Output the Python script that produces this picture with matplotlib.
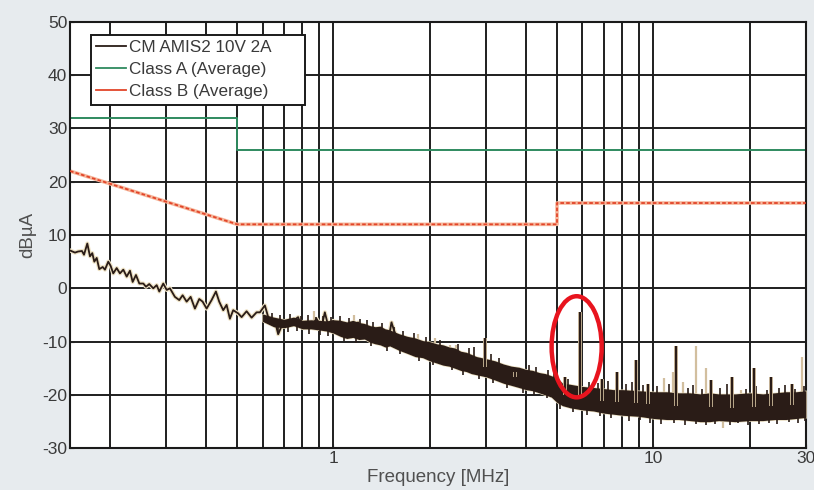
import numpy as np
import matplotlib
matplotlib.use('Agg')
import matplotlib.pyplot as plt
import matplotlib.patheffects as pe
from matplotlib.patches import Ellipse
from matplotlib.ticker import FixedLocator, NullFormatter

plt.rcParams['font.family'] = ['Liberation Sans', 'DejaVu Sans']
plt.rcParams['axes.unicode_minus'] = False

# measured trace, low frequency part (MHz, dBuA)
trace_mhz = [0.150, 0.1555, 0.1589, 0.1635, 0.1659, 0.1699, 0.1732, 0.1761, 0.1787, 0.1818,
             0.1852, 0.1898, 0.1929, 0.1976, 0.2010, 0.2048, 0.2099, 0.2149, 0.2202, 0.2256,
             0.2310, 0.2355, 0.2412, 0.2471, 0.2543, 0.2592, 0.2654, 0.2732, 0.2800, 0.2853,
             0.2936, 0.3009, 0.3080, 0.3192, 0.3294, 0.3375, 0.3474, 0.3575, 0.3687, 0.3804,
             0.3898, 0.4011, 0.4158, 0.4289, 0.4392, 0.4521, 0.4632, 0.4743, 0.4857, 0.5035,
             0.5160, 0.5349, 0.5546, 0.5748, 0.5888, 0.6102, 0.6249, 0.6404, 0.6557, 0.6714,
             0.6962, 0.7216, 0.7479, 0.7753, 0.7947, 0.8238, 0.8538, 0.8851, 0.9175, 0.9396,
             0.9622, 0.9975, 1.034, 1.072, 1.111, 1.152, 1.194, 1.238, 1.283, 1.330,
             1.379, 1.430, 1.482, 1.518, 1.574, 1.632, 1.692, 1.754, 1.818, 1.885,
             1.954, 2.025, 2.100, 2.177, 2.256]
trace_dbua = [7.1, 6.7, 6.9, 7.0, 6.3, 8.4, 6.0, 6.6, 5.0, 5.7,
              3.6, 4.0, 3.5, 5.0, 4.2, 2.8, 3.8, 2.8, 3.5, 2.2,
              3.3, 1.2, 2.5, 0.9, 0.9, 0.3, 0.8, 0.0, 0.6, -0.6,
              0.9, -0.3, 0.0, -1.6, -2.2, -1.3, -2.5, -1.6, -3.8, -2.0,
              -2.5, -3.8, -2.2, -0.6, -2.5, -4.1, -3.1, -5.7, -4.1, -4.7,
              -5.4, -4.3, -5.5, -4.5, -4.5, -3.2, -5.4, -6.7, -6.1, -8.6,
              -6.4, -7.0, -6.1, -5.4, -7.3, -6.4, -7.0, -5.7, -7.3, -4.5,
              -7.0, -6.1, -7.6, -6.7, -8.0, -7.0, -6.4, -8.0, -7.6, -8.6,
              -9.2, -8.3, -9.9, -6.4, -9.2, -10.5, -11.1, -10.2, -11.8, -10.8,
              -12.1, -11.5, -12.4, -13.1, -12.4]

# dense noise band (upper / lower envelope)
band_mhz = [0.60, 0.65, 0.70, 0.75, 0.80, 0.85, 0.90, 0.95, 1.00, 1.05,
            1.10, 1.15, 1.20, 1.25, 1.30, 1.35, 1.40, 1.45, 1.50, 1.60,
            1.70, 1.80, 1.90, 2.00, 2.10, 2.20, 2.30, 2.40, 2.50, 2.60,
            2.70, 2.80, 2.90, 3.00, 3.20, 3.40, 3.60, 3.80, 4.00, 4.20,
            4.40, 4.60, 4.80, 5.00, 5.20, 5.50, 6.00, 6.50, 7.00, 7.50,
            8.00, 9.00, 10.0, 11.0, 12.0, 13.0, 14.0, 15.0, 16.0, 18.0,
            20.0, 22.0, 24.0, 26.0, 28.0, 30.0]
band_hi = [-4.8, -5.4, -5.8, -5.4, -6.0, -5.9, -6.0, -6.1, -5.9, -6.0,
           -6.3, -6.0, -6.4, -6.6, -7.0, -7.2, -7.1, -7.6, -7.8, -8.5,
           -9.0, -9.3, -9.8, -10.0, -10.4, -10.6, -11.0, -11.2, -11.8, -12.0,
           -12.4, -12.8, -13.0, -13.2, -13.6, -14.2, -14.6, -14.8, -15.2, -15.4,
           -15.8, -16.0, -16.4, -16.8, -17.8, -18.0, -18.4, -18.6, -18.8, -19.0,
           -19.0, -19.2, -19.4, -19.4, -19.6, -19.6, -19.8, -19.6, -19.8, -19.8,
           -19.6, -19.8, -19.6, -19.4, -19.4, -19.2]
band_lo = [-6.2, -7.2, -7.4, -7.0, -7.6, -7.6, -7.8, -8.0, -8.4, -9.0,
           -9.4, -9.2, -9.6, -9.5, -10.1, -10.4, -10.6, -11.0, -10.8, -11.6,
           -12.2, -12.8, -13.0, -13.6, -14.0, -14.4, -14.6, -15.0, -15.4, -15.6,
           -16.0, -16.2, -16.4, -16.6, -17.2, -17.8, -18.2, -18.6, -19.0, -19.2,
           -19.6, -20.0, -20.4, -21.4, -22.0, -22.4, -22.8, -23.0, -23.4, -23.6,
           -23.8, -24.0, -24.4, -24.6, -24.6, -24.8, -25.0, -25.0, -24.8, -25.0,
           -24.8, -24.8, -24.6, -24.6, -24.4, -24.2]

# small noise excursions above / below the band
fuzz_up_mhz = [0.64, 0.68, 0.73, 0.79, 0.83, 0.88, 0.93, 0.98,
               1.05, 1.12, 1.21, 1.27, 1.33, 1.42, 1.55, 1.65, 1.78, 1.95,
               2.15, 2.45, 2.65, 2.75, 3.1, 3.3, 3.7, 4.1, 4.3, 4.7,
               4.9, 5.4, 6.3, 6.7, 7.2, 8.2, 8.6, 9.3, 10.3, 11.2,
               12.8, 13.3, 14.2, 16.2, 17.0, 19.5, 21.0, 22.6, 24.8, 25.8,
               27.8, 29.5]
fuzz_up_top = [-4.6, -5.0, -4.9, -5.2, -5.0, -5.3, -5.1, -5.4,
               -5.2, -5.5, -5.8, -5.9, -6.4, -6.5, -7.2, -8.0, -8.4, -9.2,
               -9.6, -10.4, -11.2, -11.0, -12.4, -13.0, -15.6, -14.4, -14.8, -15.4,
               -15.8, -17.0, -17.6, -17.8, -17.4, -18.0, -17.6, -18.2, -18.4, -18.0,
               -18.6, -18.2, -18.8, -18.6, -18.0, -18.8, -18.4, -19.0, -18.6, -18.2,
               -18.8, -18.4]
fuzz_dn_mhz = [0.67, 0.72, 0.77, 0.84, 0.91, 0.96,
               1.08, 1.18, 1.31, 1.47, 1.62, 1.85, 2.05, 2.35, 2.55, 2.85,
               3.15, 3.5, 3.9, 4.25, 4.65, 5.1, 5.6, 6.2, 6.8, 7.4,
               8.4, 9.1, 9.8, 10.6, 11.6, 12.6, 13.6, 14.6, 15.6, 17.4,
               18.4, 19.8, 21.4, 23.0, 24.4, 26.6, 28.4, 29.8]
fuzz_dn_bot = [-8.4, -8.2, -8.0, -8.6, -8.8, -9.0,
               -9.8, -10.2, -10.9, -11.8, -12.4, -13.6, -14.4, -15.4, -16.2, -17.0,
               -17.8, -18.6, -19.6, -20.0, -20.6, -22.6, -23.2, -23.8, -24.0, -24.4,
               -24.8, -24.6, -25.2, -25.4, -25.2, -25.6, -25.4, -25.6, -25.4, -25.6,
               -25.2, -25.6, -25.4, -25.2, -25.4, -25.0, -25.2, -24.8]

# discrete spurs
spur_dark_mhz = [2.97, 3.7, 5.3, 5.88, 6.9, 7.7, 8.85, 9.6, 11.8, 15.2, 17.6, 20.6, 23.4, 27.2]
spur_dark_top = [-9.3, -15.6, -16.6, -4.4, -17.0, -15.6, -13.4, -18.0, -10.9, -17.2, -16.6, -15.0, -16.6, -18.0]
spur_light_mhz = [0.87, 1.16, 1.52, 1.84, 2.07, 2.31, 2.42, 10.8, 11.5, 12.4, 13.6, 14.6, 18.8, 29.1]
spur_light_top = [-4.2, -5.0, -6.2, -8.5, -9.4, -10.7, -10.7, -16.9, -15.6, -17.5, -10.9, -15.0, -19.0, -12.9]
dip_light_mhz = [16.5]
dip_light_bot = [-26.1]

# limit lines
class_a_mhz = [0.15, 0.5, 0.5, 30]
class_a_dbua = [32, 32, 26, 26]
class_b_mhz = [0.15, 0.5, 5, 5, 30]
class_b_dbua = [22, 12, 12, 16, 16]

dark = '#2a1c17'
light = '#d2bf9f'
beige = '#eee2c4'

fig = plt.figure(figsize=(8.14, 4.90), dpi=100)
fig.patch.set_facecolor('#e7ebee')
ax = fig.add_axes([0.086, 0.0851, 0.904, 0.8706])
ax.set_facecolor('white')
ax.set_xscale('log')
ax.set_xlim(0.15, 30)
ax.set_ylim(-30, 50)

# noise band and excursions
lf = np.log10(band_mhz)
mid = (np.array(band_hi) + np.array(band_lo)) / 2
ax.plot(trace_mhz, trace_dbua, color=beige, lw=3.0, zorder=2.8)
ax.fill_between(band_mhz, band_lo, band_hi, color=dark, lw=1.0, edgecolor='#e9dcbc', zorder=3)
ax.fill_between(band_mhz, band_lo, band_hi, color=dark, lw=0, zorder=3.2)
ax.vlines(fuzz_up_mhz, np.interp(np.log10(fuzz_up_mhz), lf, mid), fuzz_up_top,
          color=dark, lw=1.2, zorder=3.1)
ax.vlines(fuzz_dn_mhz, fuzz_dn_bot, np.interp(np.log10(fuzz_dn_mhz), lf, mid),
          color=dark, lw=1.2, zorder=3.1)
ax.vlines(spur_light_mhz, np.interp(np.log10(spur_light_mhz), lf, mid), spur_light_top,
          color=light, lw=1.6, zorder=2.9)
ax.vlines(dip_light_mhz, dip_light_bot, np.interp(np.log10(dip_light_mhz), lf, mid),
          color=light, lw=1.6, zorder=2.9)
ax.vlines(spur_dark_mhz, np.interp(np.log10(spur_dark_mhz), lf, mid), spur_dark_top,
          color=dark, lw=1.6, zorder=3.3,
          path_effects=[pe.Stroke(linewidth=2.8, foreground=light), pe.Normal()])

line_cm, = ax.plot(trace_mhz, trace_dbua, color=dark, lw=1.3, zorder=3.4,
                   label='CM AMIS2 10V 2A      ')

line_a, = ax.plot(class_a_mhz, class_a_dbua, color='#2f8a5f', lw=1.4, zorder=2.5,
                  label='Class A (Average)')
ax.plot(class_b_mhz, class_b_dbua, color='#f6b79c', lw=2.6, zorder=2.5)
line_b, = ax.plot(class_b_mhz, class_b_dbua, color='#e2452a', lw=1.3, zorder=2.6,
                  dashes=(2, 1.2), label='Class B (Average)')

# grid
ax.xaxis.set_major_locator(FixedLocator([1, 10, 30]))
ax.set_xticklabels(['1', '10', '30'])
ax.xaxis.set_minor_locator(FixedLocator([0.2, 0.3, 0.4, 0.5, 0.6, 0.7, 0.8, 0.9,
                                         2, 3, 4, 5, 6, 7, 8, 9, 20]))
ax.xaxis.set_minor_formatter(NullFormatter())
ax.set_yticks(range(-30, 51, 10))
ax.grid(True, which='both', color='#1e1e1e', lw=1.4, zorder=1)
ax.set_axisbelow(True)
ax.tick_params(which='both', direction='in', length=3, color='#222', labelsize=12.5,
               labelcolor='#3a3a3a')
ax.tick_params(axis='x', pad=2)
ax.tick_params(axis='y', pad=2)
for s in ax.spines.values():
    s.set_linewidth(1.5)
    s.set_color('#1a1a1a')

ax.set_xlabel('Frequency [MHz]', fontsize=13.5, color='#505050', labelpad=2)
ax.set_ylabel('dBµA', fontsize=13.5, color='#505050', labelpad=4)

leg = ax.legend(handles=[line_cm, line_a, line_b], loc='upper left',
                bbox_to_anchor=(0.0285, 0.969), borderaxespad=0, fancybox=False,
                framealpha=1, edgecolor='#1a1a1a', fontsize=12.3, handlelength=1.75,
                handletextpad=0.2, labelspacing=0.42, borderpad=0.3)
leg.get_frame().set_linewidth(1.4)
for t in leg.get_texts():
    t.set_color('#3a3a3a')
for h in leg.get_lines():
    h.set_path_effects([])
    h.set_linewidth(1.3)
    h.set_linestyle('-')
leg.set_zorder(5)

# red highlight ellipse around the 6 MHz spur
ax.add_patch(Ellipse((0.6885, 0.238), 0.068, 0.237, transform=ax.transAxes,
                     fill=False, edgecolor='#e8141e', lw=3.2, zorder=6))

fig.savefig('out.png', dpi=100, facecolor=fig.get_facecolor())
